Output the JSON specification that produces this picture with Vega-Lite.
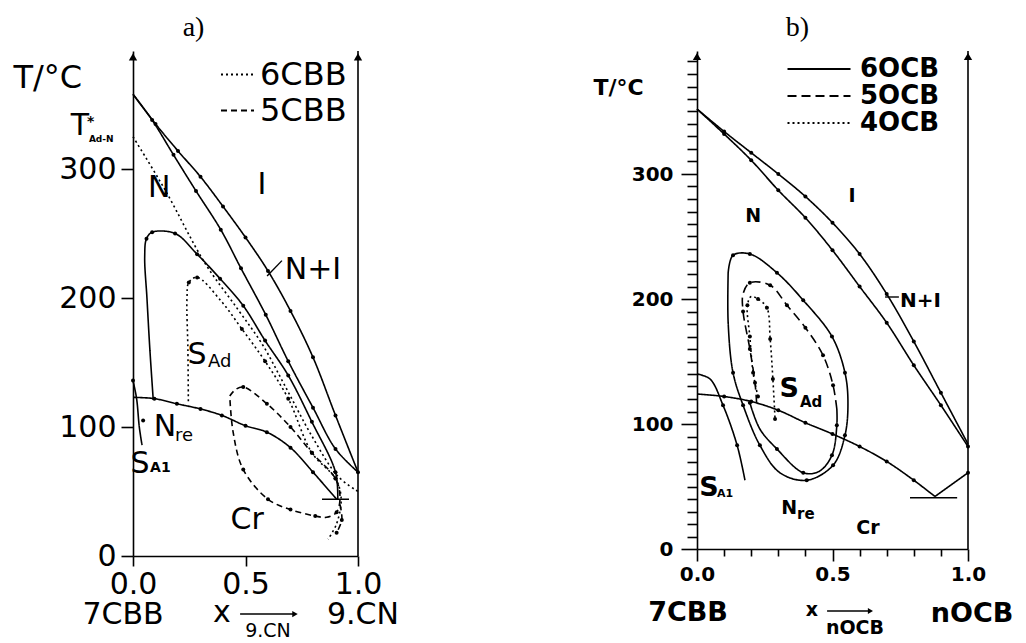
{
"$schema": "https://vega.github.io/schema/vega-lite/v6.json",
"background": "white",
"padding": {"left": 13, "top": 14, "right": 5, "bottom": 0},
"bounds": "flush",
"spacing": 339,
"config": {
  "view": {"stroke": null},
  "axis": {"domainColor": "#000", "tickColor": "#000", "labelColor": "#000", "titleColor": "#000", "grid": false, "domainWidth": 1.6, "tickWidth": 1.6, "labelFlush": false, "labelOverlap": false}
},
"resolve": {"scale": {"strokeDash": "independent"}, "legend": {"strokeDash": "independent"}},
"datasets": {
  "la": [
    {"c":"I","s":"7CBB","x":0,"T":358,"m":0},{"c":"I","s":"7CBB","x":0.1,"T":335,"m":1},{"c":"I","s":"7CBB","x":0.2,"T":314,"m":1},{"c":"I","s":"7CBB","x":0.3,"T":294,"m":1},{"c":"I","s":"7CBB","x":0.4,"T":271,"m":1},{"c":"I","s":"7CBB","x":0.5,"T":247,"m":1},{"c":"I","s":"7CBB","x":0.6,"T":221,"m":1},{"c":"I","s":"7CBB","x":0.7,"T":190,"m":1},{"c":"I","s":"7CBB","x":0.8,"T":154,"m":1},{"c":"I","s":"7CBB","x":0.9,"T":109,"m":1},{"c":"I","s":"7CBB","x":1.0,"T":65,"m":1},
    {"c":"N","s":"7CBB","x":0,"T":358,"m":0},{"c":"N","s":"7CBB","x":0.085,"T":338,"m":1},{"c":"N","s":"7CBB","x":0.18,"T":311,"m":1},{"c":"N","s":"7CBB","x":0.28,"T":283,"m":1},{"c":"N","s":"7CBB","x":0.39,"T":253,"m":1},{"c":"N","s":"7CBB","x":0.48,"T":223,"m":1},{"c":"N","s":"7CBB","x":0.59,"T":187,"m":1},{"c":"N","s":"7CBB","x":0.69,"T":151,"m":1},{"c":"N","s":"7CBB","x":0.8,"T":115,"m":1},{"c":"N","s":"7CBB","x":0.9,"T":83,"m":1},{"c":"N","s":"7CBB","x":1.0,"T":65,"m":0},
    {"c":"C","s":"7CBB","x":0.09,"T":121,"m":0},{"c":"C","s":"7CBB","x":0.075,"T":160,"m":0},{"c":"C","s":"7CBB","x":0.062,"T":200,"m":0},{"c":"C","s":"7CBB","x":0.052,"T":232,"m":0},{"c":"C","s":"7CBB","x":0.06,"T":246,"m":1},{"c":"C","s":"7CBB","x":0.085,"T":251,"m":1},{"c":"C","s":"7CBB","x":0.187,"T":250,"m":1},{"c":"C","s":"7CBB","x":0.285,"T":234,"m":1},{"c":"C","s":"7CBB","x":0.387,"T":215,"m":1},{"c":"C","s":"7CBB","x":0.49,"T":194,"m":1},{"c":"C","s":"7CBB","x":0.587,"T":167,"m":1},{"c":"C","s":"7CBB","x":0.69,"T":140,"m":1},{"c":"C","s":"7CBB","x":0.795,"T":104,"m":1},{"c":"C","s":"7CBB","x":0.9,"T":65,"m":1},{"c":"C","s":"7CBB","x":0.91,"T":44,"m":0},
    {"c":"Nre","s":"7CBB","x":0,"T":123,"m":0},{"c":"Nre","s":"7CBB","x":0.095,"T":122,"m":1},{"c":"Nre","s":"7CBB","x":0.195,"T":118,"m":1},{"c":"Nre","s":"7CBB","x":0.3,"T":114,"m":1},{"c":"Nre","s":"7CBB","x":0.395,"T":109,"m":1},{"c":"Nre","s":"7CBB","x":0.5,"T":101,"m":1},{"c":"Nre","s":"7CBB","x":0.595,"T":96,"m":1},{"c":"Nre","s":"7CBB","x":0.7,"T":84,"m":1},{"c":"Nre","s":"7CBB","x":0.8,"T":65,"m":1},{"c":"Nre","s":"7CBB","x":0.905,"T":44,"m":0},
    {"c":"Eut","s":"7CBB","x":0.84,"T":44,"m":0},{"c":"Eut","s":"7CBB","x":0.96,"T":44,"m":0},
    {"c":"SA1","s":"7CBB","x":0,"T":136,"m":1},{"c":"SA1","s":"7CBB","x":0.016,"T":122,"m":0},{"c":"SA1","s":"7CBB","x":0.028,"T":100,"m":0},{"c":"SA1","s":"7CBB","x":0.04,"T":86,"m":0},
    {"c":"dot","s":"7CBB","x":0.045,"T":105,"m":1},
    {"c":"Tst","s":"6CBB","x":0,"T":325,"m":0},{"c":"Tst","s":"6CBB","x":0.142,"T":284,"m":0},{"c":"Tst","s":"6CBB","x":0.32,"T":227,"m":0},{"c":"Tst","s":"6CBB","x":0.467,"T":191,"m":0},{"c":"Tst","s":"6CBB","x":0.575,"T":164,"m":0},{"c":"Tst","s":"6CBB","x":0.675,"T":132,"m":0},{"c":"Tst","s":"6CBB","x":0.795,"T":93,"m":0},{"c":"Tst","s":"6CBB","x":0.91,"T":62,"m":0},{"c":"Tst","s":"6CBB","x":1.0,"T":50,"m":0},
    {"c":"L6","s":"6CBB","x":0.246,"T":120,"m":0},{"c":"L6","s":"6CBB","x":0.244,"T":160,"m":0},{"c":"L6","s":"6CBB","x":0.24,"T":200,"m":0},{"c":"L6","s":"6CBB","x":0.248,"T":212,"m":1},{"c":"L6","s":"6CBB","x":0.285,"T":216,"m":1},{"c":"L6","s":"6CBB","x":0.39,"T":198,"m":0},{"c":"L6","s":"6CBB","x":0.484,"T":176,"m":1},{"c":"L6","s":"6CBB","x":0.587,"T":151,"m":1},{"c":"L6","s":"6CBB","x":0.69,"T":122,"m":1},{"c":"L6","s":"6CBB","x":0.795,"T":80,"m":1},{"c":"L6","s":"6CBB","x":0.9,"T":60,"m":1},{"c":"L6","s":"6CBB","x":0.925,"T":45,"m":0},{"c":"L6","s":"6CBB","x":0.905,"T":25,"m":0},{"c":"L6","s":"6CBB","x":0.867,"T":13,"m":0},
    {"c":"L5","s":"5CBB","x":0.43,"T":124,"m":0},{"c":"L5","s":"5CBB","x":0.455,"T":129,"m":0},{"c":"L5","s":"5CBB","x":0.49,"T":131,"m":1},{"c":"L5","s":"5CBB","x":0.595,"T":118,"m":1},{"c":"L5","s":"5CBB","x":0.7,"T":100,"m":1},{"c":"L5","s":"5CBB","x":0.795,"T":80,"m":1},{"c":"L5","s":"5CBB","x":0.9,"T":60,"m":1},{"c":"L5","s":"5CBB","x":0.92,"T":46,"m":0},{"c":"L5","s":"5CBB","x":0.905,"T":34,"m":1},{"c":"L5","s":"5CBB","x":0.86,"T":30,"m":0},{"c":"L5","s":"5CBB","x":0.81,"T":31,"m":1},{"c":"L5","s":"5CBB","x":0.7,"T":36,"m":1},{"c":"L5","s":"5CBB","x":0.6,"T":44,"m":1},{"c":"L5","s":"5CBB","x":0.49,"T":67,"m":1},{"c":"L5","s":"5CBB","x":0.445,"T":96,"m":0},{"c":"L5","s":"5CBB","x":0.43,"T":124,"m":0},
    {"c":"T5","s":"5CBB","x":0.92,"T":40,"m":0},{"c":"T5","s":"5CBB","x":0.928,"T":28,"m":1},{"c":"T5","s":"5CBB","x":0.905,"T":18,"m":1}
  ],
  "lb": [
    {"c":"I","s":"6OCB","x":0,"T":352,"m":0},{"c":"I","s":"6OCB","x":0.1,"T":334,"m":1},{"c":"I","s":"6OCB","x":0.2,"T":317,"m":1},{"c":"I","s":"6OCB","x":0.3,"T":300,"m":1},{"c":"I","s":"6OCB","x":0.4,"T":282,"m":1},{"c":"I","s":"6OCB","x":0.5,"T":261,"m":1},{"c":"I","s":"6OCB","x":0.6,"T":236,"m":1},{"c":"I","s":"6OCB","x":0.7,"T":204,"m":1},{"c":"I","s":"6OCB","x":0.8,"T":166,"m":1},{"c":"I","s":"6OCB","x":0.9,"T":125,"m":1},{"c":"I","s":"6OCB","x":1.0,"T":84,"m":0},
    {"c":"N","s":"6OCB","x":0,"T":352,"m":0},{"c":"N","s":"6OCB","x":0.1,"T":332,"m":1},{"c":"N","s":"6OCB","x":0.2,"T":311,"m":1},{"c":"N","s":"6OCB","x":0.3,"T":287,"m":1},{"c":"N","s":"6OCB","x":0.4,"T":265,"m":1},{"c":"N","s":"6OCB","x":0.5,"T":239,"m":1},{"c":"N","s":"6OCB","x":0.6,"T":210,"m":1},{"c":"N","s":"6OCB","x":0.7,"T":181,"m":1},{"c":"N","s":"6OCB","x":0.8,"T":147,"m":1},{"c":"N","s":"6OCB","x":0.9,"T":115,"m":1},{"c":"N","s":"6OCB","x":1.0,"T":82,"m":1},
    {"c":"L6","s":"6OCB","x":0.115,"T":221,"m":0},{"c":"L6","s":"6OCB","x":0.133,"T":235,"m":1},{"c":"L6","s":"6OCB","x":0.195,"T":236,"m":1},{"c":"L6","s":"6OCB","x":0.295,"T":221,"m":1},{"c":"L6","s":"6OCB","x":0.392,"T":199,"m":1},{"c":"L6","s":"6OCB","x":0.498,"T":170,"m":1},{"c":"L6","s":"6OCB","x":0.546,"T":141,"m":1},{"c":"L6","s":"6OCB","x":0.557,"T":117,"m":0},{"c":"L6","s":"6OCB","x":0.546,"T":91,"m":1},{"c":"L6","s":"6OCB","x":0.502,"T":67,"m":1},{"c":"L6","s":"6OCB","x":0.405,"T":55,"m":1},{"c":"L6","s":"6OCB","x":0.306,"T":61,"m":0},{"c":"L6","s":"6OCB","x":0.232,"T":83,"m":1},{"c":"L6","s":"6OCB","x":0.17,"T":115,"m":1},{"c":"L6","s":"6OCB","x":0.133,"T":141,"m":1},{"c":"L6","s":"6OCB","x":0.115,"T":181,"m":0},{"c":"L6","s":"6OCB","x":0.115,"T":221,"m":0},
    {"c":"In","s":"6OCB","x":0.195,"T":117,"m":1},{"c":"In","s":"6OCB","x":0.232,"T":96,"m":0},{"c":"In","s":"6OCB","x":0.295,"T":80,"m":1},{"c":"In","s":"6OCB","x":0.392,"T":61,"m":1},{"c":"In","s":"6OCB","x":0.45,"T":62,"m":0},{"c":"In","s":"6OCB","x":0.498,"T":75,"m":1},{"c":"In","s":"6OCB","x":0.516,"T":99,"m":1},{"c":"In","s":"6OCB","x":0.516,"T":112,"m":0},
    {"c":"L5","s":"5OCB","x":0.516,"T":112,"m":0},{"c":"L5","s":"5OCB","x":0.502,"T":131,"m":1},{"c":"L5","s":"5OCB","x":0.465,"T":155,"m":1},{"c":"L5","s":"5OCB","x":0.4,"T":177,"m":1},{"c":"L5","s":"5OCB","x":0.332,"T":195,"m":1},{"c":"L5","s":"5OCB","x":0.27,"T":211,"m":1},{"c":"L5","s":"5OCB","x":0.195,"T":213,"m":1},{"c":"L5","s":"5OCB","x":0.17,"T":204,"m":0},{"c":"L5","s":"5OCB","x":0.17,"T":190,"m":1},{"c":"L5","s":"5OCB","x":0.195,"T":160,"m":1},{"c":"L5","s":"5OCB","x":0.214,"T":133,"m":1},{"c":"L5","s":"5OCB","x":0.22,"T":117,"m":0},
    {"c":"L4","s":"4OCB","x":0.225,"T":122,"m":1},{"c":"L4","s":"4OCB","x":0.207,"T":141,"m":1},{"c":"L4","s":"4OCB","x":0.195,"T":170,"m":1},{"c":"L4","s":"4OCB","x":0.186,"T":195,"m":1},{"c":"L4","s":"4OCB","x":0.2,"T":202,"m":0},{"c":"L4","s":"4OCB","x":0.225,"T":200,"m":1},{"c":"L4","s":"4OCB","x":0.258,"T":193,"m":1},{"c":"L4","s":"4OCB","x":0.27,"T":168,"m":1},{"c":"L4","s":"4OCB","x":0.28,"T":136,"m":1},{"c":"L4","s":"4OCB","x":0.288,"T":104,"m":1},
    {"c":"Nre","s":"6OCB","x":0,"T":124,"m":0},{"c":"Nre","s":"6OCB","x":0.1,"T":122,"m":1},{"c":"Nre","s":"6OCB","x":0.2,"T":118,"m":1},{"c":"Nre","s":"6OCB","x":0.3,"T":111,"m":1},{"c":"Nre","s":"6OCB","x":0.4,"T":101,"m":1},{"c":"Nre","s":"6OCB","x":0.5,"T":92,"m":1},{"c":"Nre","s":"6OCB","x":0.6,"T":82,"m":1},{"c":"Nre","s":"6OCB","x":0.7,"T":70,"m":1},{"c":"Nre","s":"6OCB","x":0.8,"T":55,"m":1},{"c":"Nre","s":"6OCB","x":0.878,"T":42,"m":0},
    {"c":"Liq","s":"6OCB","x":0.878,"T":42,"m":0},{"c":"Liq","s":"6OCB","x":1.0,"T":61,"m":1},
    {"c":"Eut","s":"6OCB","x":0.786,"T":41,"m":0},{"c":"Eut","s":"6OCB","x":0.96,"T":41,"m":0},
    {"c":"SA1","s":"6OCB","x":0,"T":140,"m":0},{"c":"SA1","s":"6OCB","x":0.048,"T":136,"m":0},{"c":"SA1","s":"6OCB","x":0.096,"T":115,"m":1},{"c":"SA1","s":"6OCB","x":0.148,"T":83,"m":1},{"c":"SA1","s":"6OCB","x":0.177,"T":55,"m":0}
  ],
  "ta": [
    {"t":"N","x":0.116,"T":278,"k":"m"},{"t":"I","x":0.573,"T":281,"k":"m"},{"t":"N+I","x":0.8,"T":215,"k":"m"},{"t":"S","x":0.284,"T":149,"k":"m"},{"t":"N","x":0.142,"T":93,"k":"m"},{"t":"S","x":0.031,"T":64,"k":"m"},{"t":"Cr","x":0.507,"T":21,"k":"m"},{"t":"T","x":-0.236,"T":326,"k":"m"},{"t":"7CBB","x":-0.044,"T":-53,"k":"m"},{"t":"9.CN","x":1.022,"T":-53,"k":"m"},{"t":"x","x":0.395,"T":-51,"k":"m"},
    {"t":"Ad","x":0.333,"T":146.5,"k":"s"},{"t":"re","x":0.187,"T":89,"k":"s"},{"t":"A1","x":0.076,"T":65,"k":"s2"},{"t":"*","x":-0.205,"T":333,"k":"s2"},{"t":"Ad-N","x":-0.196,"T":321,"k":"t"},{"t":"9.CN","x":0.6,"T":-63,"k":"c"}
  ],
  "sa": [
    {"x":0.596,"T":217,"x2":0.662,"T2":229,"h":0},{"x":0.476,"T":-45,"x2":0.72,"T2":-45,"h":1}
  ],
  "tb": [
    {"t":"N","x":0.207,"T":261.6,"k":"m"},{"t":"I","x":0.572,"T":278,"k":"m"},{"t":"Cr","x":0.631,"T":12,"k":"m"},{"t":"N","x":0.34,"T":28,"k":"m"},{"t":"x","x":0.424,"T":-53.6,"k":"m"},{"t":"nOCB","x":0.583,"T":-68,"k":"m"},
    {"t":"S","x":0.34,"T":122,"k":"L"},{"t":"S","x":0.044,"T":42.4,"k":"L"},{"t":"7CBB","x":-0.033,"T":-57.6,"k":"L"},{"t":"nOCB","x":1.015,"T":-58.4,"k":"L"},
    {"t":"N+I","x":0.749,"T":194,"k":"l"},
    {"t":"Ad","x":0.38,"T":114,"k":"s"},{"t":"re","x":0.369,"T":24,"k":"s"},{"t":"A1","x":0.074,"T":42,"k":"s2"}
  ],
  "sb": [
    {"x":0.694,"T":201.6,"x2":0.745,"T2":201.6,"h":0},{"x":0.48,"T":-49.6,"x2":0.64,"T2":-49.6,"h":1}
  ]
},
"hconcat": [
 {
  "width": 225, "height": 505,
  "title": {"text": "a)", "font": "Liberation Serif", "fontSize": 28, "fontWeight": "normal", "anchor": "middle", "dx": -52, "offset": 8, "color": "#000"},
  "layer": [
   {"data": {"name": "la"},
    "mark": {"type": "line", "interpolate": "catmull-rom", "color": "#000", "strokeWidth": 1.6},
    "encoding": {
      "x": {"field": "x", "type": "quantitative", "scale": {"domain": [0, 1], "nice": false, "zero": false},
            "axis": {"values": [0, 0.5, 1], "format": ".1f", "tickSize": 10, "labelFont": "DejaVu Sans", "labelFontSize": 30, "labelPadding": 3, "labelDx": -5, "labelOverlap": false, "title": null}},
      "y": {"field": "T", "type": "quantitative", "scale": {"domain": [0, 391.5], "nice": false},
            "axis": {"values": [0, 100, 200, 300], "tickSize": 12, "labelFont": "DejaVu Sans", "labelFontSize": 30, "labelPadding": 5, "labelOverlap": false, "title": "T/°C", "titleAngle": 0, "titleAlign": "left", "titleBaseline": "alphabetic", "titleX": -120, "titleY": 36, "titleFont": "DejaVu Sans", "titleFontSize": 32, "titleFontWeight": "normal"}},
      "detail": {"field": "c"},
      "order": {"value": null},
      "strokeDash": {"field": "s", "type": "nominal",
        "scale": {"domain": ["7CBB", "6CBB", "5CBB"], "range": [[1, 0], [2, 3], [6, 4]]},
        "legend": {"values": ["6CBB", "5CBB"], "orient": "none", "legendX": 87, "legendY": 6, "title": null, "symbolType": "stroke", "symbolSize": 1089, "symbolStrokeWidth": 1.8, "symbolStrokeColor": "#000", "labelFont": "DejaVu Sans", "labelFontSize": 32, "labelColor": "#000", "labelOffset": 5, "rowPadding": 2, "padding": 0}}
    }},
   {"data": {"name": "la"}, "transform": [{"filter": "datum.m == 1"}],
    "mark": {"type": "point", "filled": true, "color": "#000", "size": 16, "opacity": 1},
    "encoding": {"x": {"field": "x", "type": "quantitative"}, "y": {"field": "T", "type": "quantitative"}}},
   {"data": {"values": [{}]}, "mark": {"type": "rule", "color": "#000", "strokeWidth": 1.6}, "encoding": {"x": {"datum": 1}}},
   {"data": {"values": [{"x": 0}, {"x": 1}]}, "mark": {"type": "point", "shape": "triangle-up", "filled": true, "color": "#000", "size": 70, "opacity": 1},
    "encoding": {"x": {"field": "x", "type": "quantitative"}, "y": {"datum": 387}}},
   {"data": {"name": "sa"}, "mark": {"type": "rule", "color": "#000", "strokeWidth": 1.4},
    "encoding": {"x": {"field": "x", "type": "quantitative"}, "y": {"field": "T", "type": "quantitative"}, "x2": {"field": "x2"}, "y2": {"field": "T2"}}},
   {"data": {"name": "sa"}, "transform": [{"filter": "datum.h == 1"}], "mark": {"type": "point", "shape": "triangle-right", "filled": true, "color": "#000", "size": 40, "opacity": 1},
    "encoding": {"x": {"field": "x2", "type": "quantitative"}, "y": {"field": "T2", "type": "quantitative"}}},
   {"data": {"name": "ta"}, "transform": [{"filter": "datum.k == 'm'"}], "mark": {"type": "text", "font": "DejaVu Sans", "fontSize": 30, "align": "center", "baseline": "alphabetic", "color": "#000"},
    "encoding": {"x": {"field": "x", "type": "quantitative"}, "y": {"field": "T", "type": "quantitative"}, "text": {"field": "t"}}},
   {"data": {"name": "ta"}, "transform": [{"filter": "datum.k == 's'"}], "mark": {"type": "text", "font": "DejaVu Sans", "fontSize": 18, "align": "left", "baseline": "alphabetic", "color": "#000"},
    "encoding": {"x": {"field": "x", "type": "quantitative"}, "y": {"field": "T", "type": "quantitative"}, "text": {"field": "t"}}},
   {"data": {"name": "ta"}, "transform": [{"filter": "datum.k == 's2'"}], "mark": {"type": "text", "font": "DejaVu Sans", "fontSize": 14, "fontWeight": "bold", "align": "left", "baseline": "alphabetic", "color": "#000"},
    "encoding": {"x": {"field": "x", "type": "quantitative"}, "y": {"field": "T", "type": "quantitative"}, "text": {"field": "t"}}},
   {"data": {"name": "ta"}, "transform": [{"filter": "datum.k == 't'"}], "mark": {"type": "text", "font": "DejaVu Sans", "fontSize": 9, "fontWeight": "bold", "align": "left", "baseline": "alphabetic", "color": "#000"},
    "encoding": {"x": {"field": "x", "type": "quantitative"}, "y": {"field": "T", "type": "quantitative"}, "text": {"field": "t"}}},
   {"data": {"name": "ta"}, "transform": [{"filter": "datum.k == 'c'"}], "mark": {"type": "text", "font": "DejaVu Sans", "fontSize": 19, "align": "center", "baseline": "alphabetic", "color": "#000"},
    "encoding": {"x": {"field": "x", "type": "quantitative"}, "y": {"field": "T", "type": "quantitative"}, "text": {"field": "t"}}}
  ]
 },
 {
  "width": 271, "height": 498,
  "title": {"text": "b)", "font": "Liberation Serif", "fontSize": 28, "fontWeight": "normal", "anchor": "middle", "dx": -35, "offset": 8, "color": "#000"},
  "resolve": {"axis": {"x": "independent", "y": "independent"}},
  "layer": [
   {"layer": [
   {"data": {"name": "lb"},
    "mark": {"type": "line", "interpolate": "catmull-rom", "color": "#000", "strokeWidth": 1.6},
    "encoding": {
      "x": {"field": "x", "type": "quantitative", "scale": {"domain": [0, 1], "nice": false, "zero": false},
            "axis": {"values": [0, 0.5, 1], "format": ".1f", "tickSize": 12, "orient": "bottom",
                     "labelFont": "DejaVu Sans", "labelFontWeight": "bold", "labelFontSize": 20, "labelPadding": 3, "labelDx": -5, "labelOverlap": false, "title": null}},
      "y": {"field": "T", "type": "quantitative", "scale": {"domain": [0, 398.4], "nice": false},
            "axis": {"values": [0, 100, 200, 300], "tickSize": 16, "orient": "left",
                     "labelFont": "DejaVu Sans", "labelFontWeight": "bold", "labelFontSize": 20, "labelPadding": 8, "labelOverlap": false,
                     "title": "T/°C", "titleAngle": 0, "titleAlign": "left", "titleBaseline": "alphabetic", "titleX": -104, "titleY": 43, "titleFont": "DejaVu Sans", "titleFontSize": 22, "titleFontWeight": "bold"}},
      "detail": {"field": "c"},
      "order": {"value": null},
      "strokeDash": {"field": "s", "type": "nominal",
        "scale": {"domain": ["6OCB", "5OCB", "4OCB"], "range": [[1, 0], [9, 5], [2, 3]]},
        "legend": {"values": ["6OCB", "5OCB", "4OCB"], "orient": "none", "legendX": 109, "legendY": 5, "title": null, "symbolType": "M-3,0H3", "symbolSize": 441, "symbolStrokeWidth": 2, "symbolStrokeColor": "#000", "symbolFillColor": "transparent", "labelFont": "DejaVu Sans", "labelFontWeight": "bold", "labelFontSize": 26, "labelColor": "#000", "labelOffset": 28, "rowPadding": 1, "padding": 0}}
    }},
   {"data": {"name": "lb"}, "transform": [{"filter": "datum.m == 1"}],
    "mark": {"type": "point", "filled": true, "color": "#000", "size": 16, "opacity": 1},
    "encoding": {"x": {"field": "x", "type": "quantitative"}, "y": {"field": "T", "type": "quantitative"}}},
   {"data": {"values": [{}]}, "mark": {"type": "rule", "color": "#000", "strokeWidth": 1.6}, "encoding": {"x": {"datum": 1}}},
   {"data": {"values": [{"x": 0}, {"x": 1}]}, "mark": {"type": "point", "shape": "triangle-up", "filled": true, "color": "#000", "size": 70, "opacity": 1},
    "encoding": {"x": {"field": "x", "type": "quantitative"}, "y": {"datum": 394}}},
   {"data": {"name": "sb"}, "mark": {"type": "rule", "color": "#000", "strokeWidth": 1.4},
    "encoding": {"x": {"field": "x", "type": "quantitative"}, "y": {"field": "T", "type": "quantitative"}, "x2": {"field": "x2"}, "y2": {"field": "T2"}}},
   {"data": {"name": "sb"}, "transform": [{"filter": "datum.h == 1"}], "mark": {"type": "point", "shape": "triangle-right", "filled": true, "color": "#000", "size": 35, "opacity": 1},
    "encoding": {"x": {"field": "x2", "type": "quantitative"}, "y": {"field": "T2", "type": "quantitative"}}},
   {"data": {"name": "tb"}, "transform": [{"filter": "datum.k == 'm'"}], "mark": {"type": "text", "font": "DejaVu Sans", "fontWeight": "bold", "fontSize": 19, "align": "center", "baseline": "alphabetic", "color": "#000"},
    "encoding": {"x": {"field": "x", "type": "quantitative"}, "y": {"field": "T", "type": "quantitative"}, "text": {"field": "t"}}},
   {"data": {"name": "tb"}, "transform": [{"filter": "datum.k == 'L'"}], "mark": {"type": "text", "font": "DejaVu Sans", "fontWeight": "bold", "fontSize": 27, "align": "center", "baseline": "alphabetic", "color": "#000"},
    "encoding": {"x": {"field": "x", "type": "quantitative"}, "y": {"field": "T", "type": "quantitative"}, "text": {"field": "t"}}},
   {"data": {"name": "tb"}, "transform": [{"filter": "datum.k == 'l'"}], "mark": {"type": "text", "font": "DejaVu Sans", "fontWeight": "bold", "fontSize": 20, "align": "left", "baseline": "alphabetic", "color": "#000"},
    "encoding": {"x": {"field": "x", "type": "quantitative"}, "y": {"field": "T", "type": "quantitative"}, "text": {"field": "t"}}},
   {"data": {"name": "tb"}, "transform": [{"filter": "datum.k == 's'"}], "mark": {"type": "text", "font": "DejaVu Sans", "fontWeight": "bold", "fontSize": 15, "align": "left", "baseline": "alphabetic", "color": "#000"},
    "encoding": {"x": {"field": "x", "type": "quantitative"}, "y": {"field": "T", "type": "quantitative"}, "text": {"field": "t"}}},
   {"data": {"name": "tb"}, "transform": [{"filter": "datum.k == 's2'"}], "mark": {"type": "text", "font": "DejaVu Sans", "fontWeight": "bold", "fontSize": 11, "align": "left", "baseline": "alphabetic", "color": "#000"},
    "encoding": {"x": {"field": "x", "type": "quantitative"}, "y": {"field": "T", "type": "quantitative"}, "text": {"field": "t"}}}
   ]},
   {"data": {"name": "lb"}, "mark": {"type": "point", "opacity": 0},
    "encoding": {
      "x": {"field": "x", "type": "quantitative", "axis": {"values": [0.1, 0.2, 0.3, 0.4, 0.6, 0.7, 0.8, 0.9], "orient": "bottom", "labels": false, "domain": false, "tickSize": 7, "title": null}},
      "y": {"field": "T", "type": "quantitative", "axis": {"values": [10,20,30,40,50,60,70,80,90,110,120,130,140,150,160,170,180,190,210,220,230,240,250,260,270,280,290,310,320,330,340,350,360,370,380,390], "orient": "left", "labels": false, "domain": false, "tickSize": 10, "title": null}}
    }}
  ]
 }
]
}
